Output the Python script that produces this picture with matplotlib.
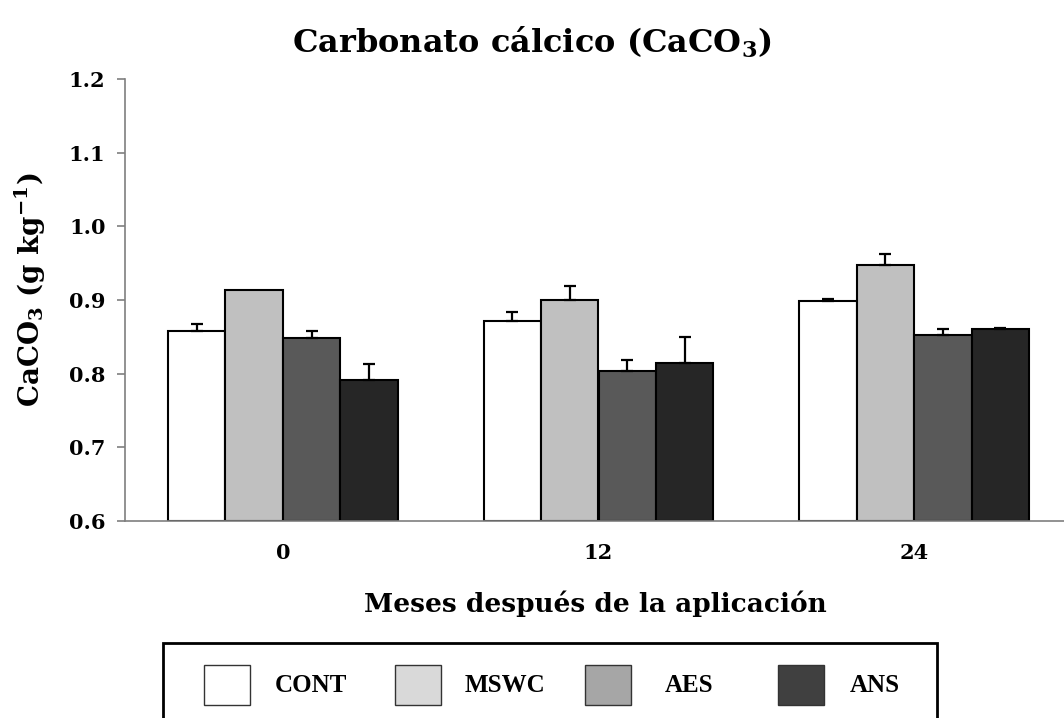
import matplotlib
matplotlib.use("Agg")
import matplotlib.pyplot as plt
from matplotlib.patches import Rectangle
import numpy as np

plt.rcParams["mathtext.fontset"] = "dejavuserif"

categories = ["0", "12", "24"]
series = ["CONT", "MSWC", "AES", "ANS"]
cont = [0.858, 0.872, 0.898]
mswc = [0.914, 0.900, 0.947]
aes = [0.848, 0.804, 0.853]
ans = [0.791, 0.815, 0.860]
cont_err = [0.009, 0.012, 0.004]
mswc_err = [0.0, 0.019, 0.016]
aes_err = [0.010, 0.014, 0.007]
ans_err = [0.022, 0.035, 0.002]
yticks = [0.6, 0.7, 0.8, 0.9, 1.0, 1.1, 1.2]

values = [cont, mswc, aes, ans]
errors = [cont_err, mswc_err, aes_err, ans_err]
bar_colors = ["#ffffff", "#c0c0c0", "#595959", "#262626"]
legend_colors = ["#ffffff", "#d9d9d9", "#a6a6a6", "#404040"]

W, H = 1064, 718
fig = plt.figure(figsize=(W / 100, H / 100), dpi=100)
ax = fig.add_axes([125 / W, 1 - 521 / H, 947 / W, (521 - 79) / H])

x = np.arange(len(categories))
bw = 0.182
for i, (vals, errs) in enumerate(zip(values, errors)):
    pos = x + (i - 1.5) * bw
    vals = np.array(vals)
    errs = np.array(errs)
    ax.bar(pos, vals - 0.6, bottom=0.6, width=bw, color=bar_colors[i],
           edgecolor="black", linewidth=1.5, zorder=2)
    m = errs > 0
    ax.errorbar(pos[m], vals[m], yerr=[np.zeros(m.sum()), errs[m]], fmt="none",
                ecolor="black", elinewidth=1.6, capsize=4.5, capthick=1.6, zorder=3)

ax.set_xlim(-0.5, 2.5)
ax.set_ylim(0.6, 1.2)
ax.set_yticks(yticks)
ax.set_yticklabels([f"{v:.1f}" for v in yticks])
ax.set_xticks(x)
ax.set_xticklabels(categories)
for s in ["top", "right"]:
    ax.spines[s].set_visible(False)
for s in ["left", "bottom"]:
    ax.spines[s].set_color("#7f7f7f")
    ax.spines[s].set_linewidth(1.2)
ax.tick_params(axis="y", direction="out", length=6, width=1.2, color="#7f7f7f", pad=8)
ax.tick_params(axis="x", length=0, pad=16)
tfont = dict(family="DejaVu Serif", weight="bold")
for lab in ax.get_yticklabels() + ax.get_xticklabels():
    lab.set_fontfamily("DejaVu Serif")
    lab.set_fontweight("bold")
    lab.set_fontsize(15)

fig.text(532 / W, 1 - 42 / H, r"Carbonato cálcico (CaCO$_\mathbf{3}$)", ha="center", va="center",
         fontsize=23, **tfont)
fig.text(30 / W, 1 - 290 / H, r"CaCO$_\mathbf{3}$ (g kg$^\mathbf{-1}$)", ha="center", va="center",
         rotation=90, fontsize=20, **tfont)
fig.text(595 / W, 1 - 604 / H, "Meses después de la aplicación", ha="center", va="center",
         fontsize=19, **tfont)

# legend box
fig.patches.append(Rectangle((163 / W, 1 - 740 / H), (937 - 163) / W, (740 - 643) / H,
                             transform=fig.transFigure, facecolor="white", edgecolor="black",
                             linewidth=2, clip_on=False))
patch_x = [204, 395, 585, 778]
text_x = [275, 465, 665, 850]
for i, name in enumerate(series):
    fig.patches.append(Rectangle((patch_x[i] / W, 1 - 705 / H), 46 / W, 40 / H,
                                 transform=fig.transFigure, facecolor=legend_colors[i],
                                 edgecolor="#333333", linewidth=1))
    fig.text(text_x[i] / W, 1 - 685 / H, name, ha="left", va="center", fontsize=18,
             family="Liberation Serif", weight="bold")

fig.savefig("out.png", dpi=100)
